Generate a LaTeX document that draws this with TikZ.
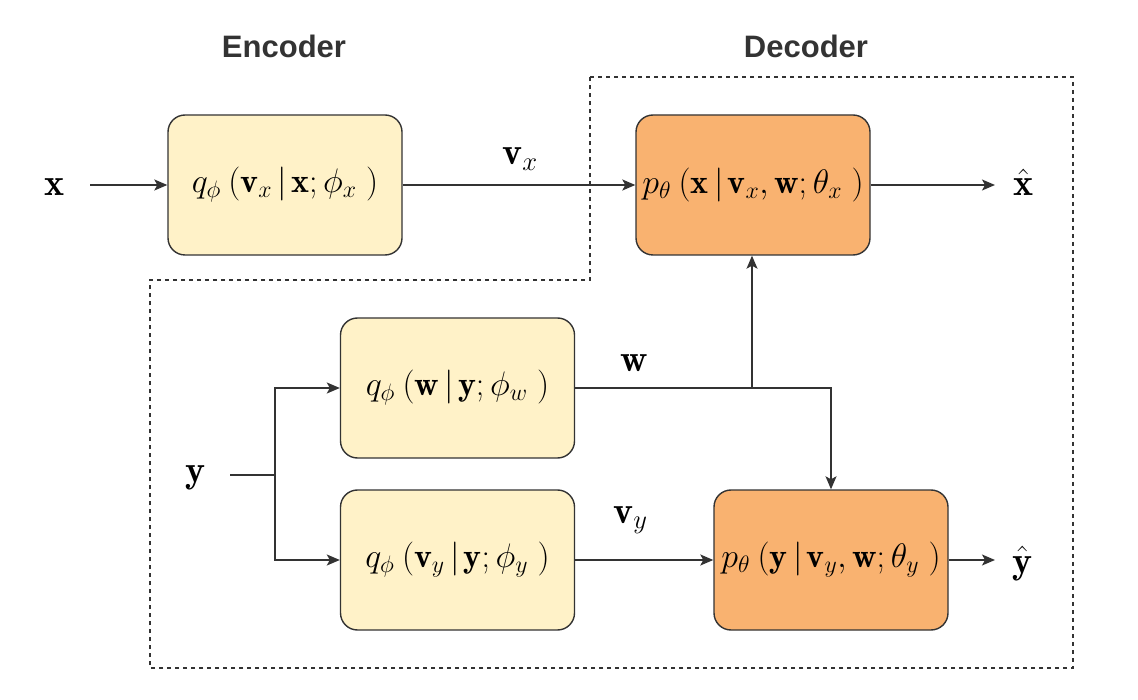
\RequirePackage{fix-cm}
\documentclass[tikz,border=0pt]{standalone}
\usepackage{amsmath}
\usepackage{fontspec}
\newfontfamily\labelfont{Liberation Sans}
\usetikzlibrary{arrows.meta}
\definecolor{encfill}{HTML}{FFF2C8}
\definecolor{decfill}{HTML}{F9B270}
\definecolor{stroke}{HTML}{333333}
\newcommand\myopen{\mkern4mu(}
\newcommand\myclose{\mkern5mu)}
\newcommand\mybar{\mkern3mu|\mkern2mu}
\tikzset{
  blk/.style={draw=stroke, line width=1.4pt, rounded corners=17pt, minimum width=234pt, minimum height=140pt, inner sep=0pt, font=\fontsize{34}{38}\selectfont},
  enc/.style={blk, fill=encfill},
  dec/.style={blk, fill=decfill},
  conn/.style={draw=stroke, line width=1.4pt},
  arr/.style={conn, -{Stealth[length=13pt,width=11pt,inset=3pt]}},
  lbl/.style={font=\fontsize{38}{42}\selectfont, text=black, inner sep=0pt, anchor=base west},
  head/.style={font=\labelfont\bfseries\fontsize{31}{36}\selectfont, text=stroke},
  bound/.style={draw=stroke, line width=1.3pt, dash pattern=on 4pt off 4pt}
}
\begin{document}
\begin{tikzpicture}[x=1pt,y=-1pt]
\useasboundingbox (0,0) rectangle (1138,700);
% boundary
\draw[bound] (590,77) -- (1073,77) -- (1073,668) -- (150,668) -- (150,280) -- (590,280) -- cycle;
% headings
\node[head] (henc) at (284,46) {Encoder};
\node[head] (hdec) at (806,46) {Decoder};
% boxes
\node[enc] (qx) at (285,185) {$q_\phi\myopen\mathbf{v}_x\mybar\mathbf{x};\phi_x\myclose$};
\node[dec] (px) at (753,185) {$p_\theta\myopen\mathbf{x}\mybar\mathbf{v}_x,\mathbf{w};\theta_x\myclose$};
\node[enc] (qw) at (457.5,388) {$q_\phi\myopen\mathbf{w}\mybar\mathbf{y};\phi_w\myclose$};
\node[enc] (qy) at (457.5,560) {$q_\phi\myopen\mathbf{v}_y\mybar\mathbf{y};\phi_y\myclose$};
\node[dec] (py) at (831,560) {$p_\theta\myopen\mathbf{y}\mybar\mathbf{v}_y,\mathbf{w};\theta_y\myclose$};
% labels
\node[lbl] (x) at (44,196) {$\mathbf{x}$};
\node[lbl] (xh) at (1013,196) {$\hat{\mathbf{x}}$};
\node[lbl] (y) at (185,482) {$\mathbf{y}$};
\node[lbl] (yh) at (1012,573) {$\hat{\mathbf{y}}$};
\node[lbl] (vx) at (502,165) {$\mathbf{v}_x$};
\node[lbl] (wl) at (620,372) {$\mathbf{w}$};
\node[lbl] (vy) at (613,523) {$\mathbf{v}_y$};
% coordinates
\coordinate (ys) at (230,475);
\coordinate (yj) at (275,475);
\coordinate (wj) at (752,388);
\coordinate (xe) at (995,185);
\coordinate (ye) at (995,560);
% connectors
\draw[arr] (90,185) -- (qx.west);
\draw[arr] (qx.east) -- (px.west);
\draw[arr] (px.east) -- (xe);
\draw[conn] (ys) -- (yj);
\draw[arr] (yj) |- (qw.west);
\draw[arr] (yj) |- (qy.west);
\draw[arr] (qy.east) -- (py.west);
\draw[arr] (qw.east) -| (py.north);
\draw[arr] (wj) -- (px.south -| wj);
\draw[arr] (py.east) -- (ye);
\end{tikzpicture}
\end{document}
